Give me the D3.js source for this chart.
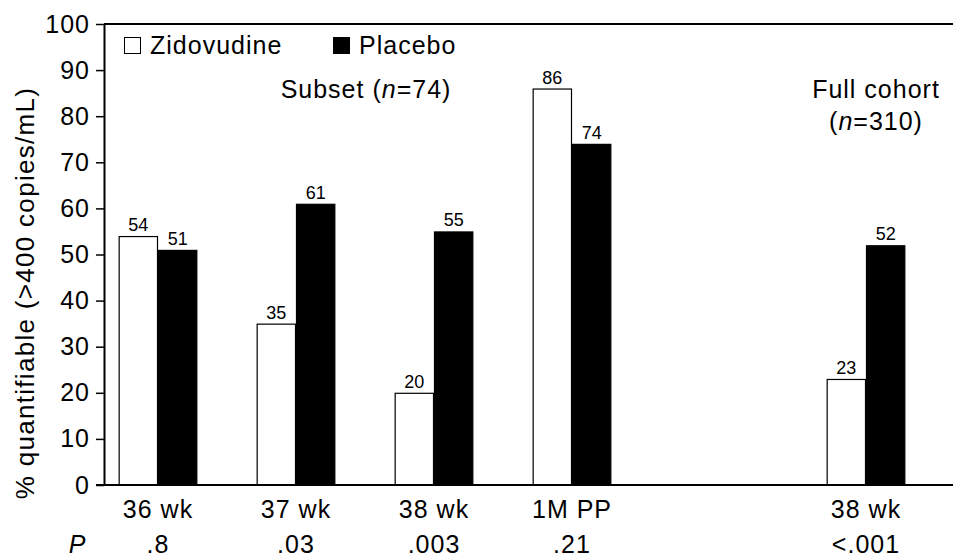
<!DOCTYPE html>
<html>
<head>
<meta charset="utf-8">
<script src="https://cdn.jsdelivr.net/npm/d3@7"></script>
<style>
  body { margin: 0; background: #fff; }
  text { font-family: 'Liberation Sans', Arial, Helvetica, sans-serif; fill: #000; }
</style>
</head>
<body>
<div id="container"></div>
<script>
/* DATA */
var subsetGroups = ['36 wk', '37 wk', '38 wk', '1M PP']
var cohortGroups = ['38 wk']
var series = ['Zidovudine', 'Placebo']
var zidovudineSubset = [54, 35, 20, 86]
var placeboSubset = [51, 61, 55, 74]
var zidovudineCohort = [23]
var placeboCohort = [52]
var pSubset = ['.8', '.03', '.003', '.21']
var pCohort = ['<.001']
var yTicks = [0, 10, 20, 30, 40, 50, 60, 70, 80, 90, 100]
var colors = ['#ffffff', '#000000']

/* SET UP */
var width = 953
var height = 558
var axisX = 104
var baseY = 485
var topY = 24

var svg = d3.select('#container')
  .append('svg')
  .attr('width', width)
  .attr('height', height)

var y = d3.scaleLinear().domain([0, 100]).range([baseY, topY])

// two panels share the same step so bars keep the same width
var xSubset = d3.scaleBand().domain(subsetGroups)
  .range([89, 641]).paddingInner(0.43).paddingOuter(0.215)
var xCohort = d3.scaleBand().domain(cohortGroups)
  .range([797, 935]).paddingInner(0.43).paddingOuter(0.215)
var xSeries = d3.scaleBand().domain(series).range([0, xSubset.bandwidth()])
var fill = d3.scaleOrdinal().domain(series).range(colors)

function rows(groups, zid, pla, pvals) {
  return groups.map(function(g, i) {
    return { group: g, p: pvals[i], values: [
      { key: 'Zidovudine', value: zid[i] },
      { key: 'Placebo', value: pla[i] }
    ] }
  })
}

var panels = [
  { scale: xSubset, data: rows(subsetGroups, zidovudineSubset, placeboSubset, pSubset) },
  { scale: xCohort, data: rows(cohortGroups, zidovudineCohort, placeboCohort, pCohort) }
]

/* FRAME */
svg.append('line')
  .attr('x1', axisX).attr('x2', width)
  .attr('y1', topY).attr('y2', topY)
  .attr('stroke', '#000').attr('stroke-width', 2)

/* BARS */
panels.forEach(function(panel) {
  var g = svg.append('g')
    .selectAll('g')
    .data(panel.data)
    .enter()
    .append('g')
    .attr('transform', function(d) { return 'translate(' + panel.scale(d.group) + ',0)' })

  g.selectAll('rect')
    .data(function(d) { return d.values })
    .enter()
    .append('rect')
    .attr('x', function(d) { return xSeries(d.key) + 0.5 })
    .attr('y', function(d) { return y(d.value) + 0.5 })
    .attr('width', xSeries.bandwidth() - 1)
    .attr('height', function(d) { return baseY - y(d.value) - 0.5 })
    .attr('fill', function(d) { return fill(d.key) })
    .attr('stroke', '#000')
    .attr('stroke-width', 1.2)

  g.selectAll('text.val')
    .data(function(d) { return d.values })
    .enter()
    .append('text')
    .attr('class', 'val')
    .attr('x', function(d) { return xSeries(d.key) + xSeries.bandwidth() / 2 })
    .attr('y', function(d) { return y(d.value) - 5 })
    .attr('text-anchor', 'middle')
    .style('font-size', '18px')
    .text(function(d) { return d.value })

  // category labels and P values under the axis
  g.append('text')
    .attr('x', panel.scale.bandwidth() / 2)
    .attr('y', 518)
    .attr('text-anchor', 'middle')
    .style('font-size', '25px')
    .style('letter-spacing', '1px')
    .text(function(d) { return d.group })

  g.append('text')
    .attr('x', panel.scale.bandwidth() / 2)
    .attr('y', 553)
    .attr('text-anchor', 'middle')
    .style('font-size', '25px')
    .style('letter-spacing', '1px')
    .text(function(d) { return d.p })
})

svg.append('text')
  .attr('x', 77)
  .attr('y', 553)
  .attr('text-anchor', 'middle')
  .style('font-size', '25px')
  .style('font-style', 'italic')
  .text('P')

/* AXES */
var yAxis = svg.append('g')
  .attr('transform', 'translate(' + axisX + ',0)')
  .call(d3.axisLeft(y).tickValues(yTicks).tickSize(8).tickPadding(6).tickSizeOuter(0))
yAxis.select('.domain').attr('stroke-width', 2)
yAxis.selectAll('.tick line').attr('stroke-width', 1.5)
yAxis.selectAll('.tick text')
  .style('font-size', '25px')
  .style('letter-spacing', '1px')
  .style('font-family', "'Liberation Sans', Arial, sans-serif")

svg.append('line')
  .attr('x1', axisX - 8).attr('x2', width)
  .attr('y1', baseY).attr('y2', baseY)
  .attr('stroke', '#000').attr('stroke-width', 2)

svg.append('text')
  .attr('transform', 'translate(25,293) rotate(-90)')
  .attr('text-anchor', 'middle')
  .attr('dy', '0.35em')
  .style('font-size', '26px')
  .style('letter-spacing', '1.3px')
  .text('% quantifiable (>400 copies/mL)')

/* LEGEND */
var legend = svg.append('g')
var legendX = [124, 333]
series.forEach(function(s, i) {
  legend.append('rect')
    .attr('x', legendX[i] + 0.5).attr('y', 37.5)
    .attr('width', 16).attr('height', 16)
    .attr('fill', fill(s))
    .attr('stroke', '#000').attr('stroke-width', 1)
  legend.append('text')
    .attr('x', legendX[i] + 26)
    .attr('y', 54)
    .style('font-size', '25px')
    .style('letter-spacing', '1px')
    .text(s)
})

/* ANNOTATIONS */
var subsetLabel = svg.append('text')
  .attr('x', 366).attr('y', 98)
  .attr('text-anchor', 'middle')
  .style('font-size', '25px')
  .style('letter-spacing', '1px')
subsetLabel.append('tspan').text('Subset (')
subsetLabel.append('tspan').style('font-style', 'italic').text('n')
subsetLabel.append('tspan').text('=74)')

svg.append('text')
  .attr('x', 876).attr('y', 98)
  .attr('text-anchor', 'middle')
  .style('font-size', '25px')
  .style('letter-spacing', '1px')
  .text('Full cohort')

var cohortLabel = svg.append('text')
  .attr('x', 876).attr('y', 130)
  .attr('text-anchor', 'middle')
  .style('font-size', '25px')
  .style('letter-spacing', '1px')
cohortLabel.append('tspan').text('(')
cohortLabel.append('tspan').style('font-style', 'italic').text('n')
cohortLabel.append('tspan').text('=310)')
</script>
</body>
</html>
